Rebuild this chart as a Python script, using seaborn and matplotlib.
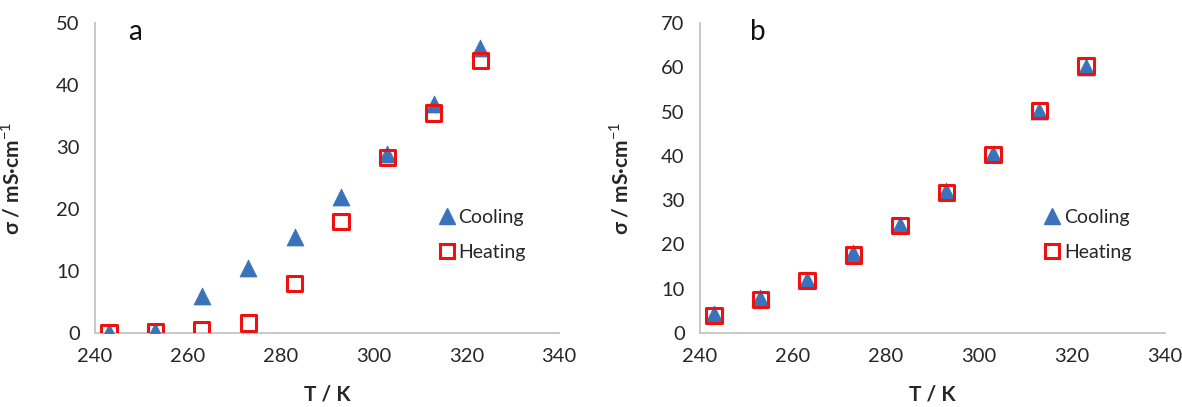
import numpy as np
import pandas as pd
import seaborn as sns
import matplotlib.pyplot as plt
from matplotlib.lines import Line2D

# Data
T = [243, 253, 263, 273, 283, 293, 303, 313, 323]
cool_a = [0.2, 0.3, 6.0, 10.5, 15.5, 22.0, 28.8, 37.0, 46.0]
heat_a = [0.1, 0.2, 0.5, 1.6, 8.0, 18.0, 28.3, 35.5, 44.0]
cool_b = [4.2, 7.8, 12.0, 18.0, 24.5, 32.0, 40.5, 50.2, 60.0]
heat_b = [4.0, 7.5, 11.8, 17.6, 24.2, 31.8, 40.3, 50.3, 60.3]

sns.set_style('white')
plt.rcParams['font.family'] = ['Lato', 'DejaVu Sans']
plt.rcParams['mathtext.fontset'] = 'custom'
plt.rcParams['mathtext.rm'] = 'Lato'
plt.rcParams['mathtext.bf'] = 'Lato:bold'

BLUE = '#3a73ba'
RED = '#f01010'
GREY = '#c4c4c4'
TXT = '#262626'

fig = plt.figure(figsize=(11.82, 4.07), dpi=100)
ax_a = fig.add_axes([0.0804, 0.1818, 0.3926, 0.7617])
ax_b = fig.add_axes([0.5922, 0.1818, 0.3934, 0.7617])

panels = [(ax_a, cool_a, heat_a, 50, 'a', -0.155),
          (ax_b, cool_b, heat_b, 70, 'b', -0.146)]
for ax, cool, heat, ymax, letter, ylab_x in panels:
    df = pd.DataFrame({'T': T, 'Cooling': cool, 'Heating': heat})
    sns.scatterplot(data=df, x='T', y='Cooling', ax=ax, marker='^', s=150,
                    color=BLUE, edgecolor=BLUE, linewidth=0.5, zorder=3)
    sns.scatterplot(data=df, x='T', y='Heating', ax=ax, marker='s', s=120,
                    facecolor='none', edgecolor=RED, linewidth=2.2, zorder=4)
    ax.set_xlim(240, 340)
    ax.set_ylim(0, ymax)
    ax.set_xticks(np.arange(240, 341, 20))
    ax.set_yticks(np.arange(0, ymax + 1, 10))
    for side in ['top', 'right']:
        ax.spines[side].set_visible(False)
    for side in ['left', 'bottom']:
        ax.spines[side].set_color(GREY)
        ax.spines[side].set_linewidth(1.3)
    ax.tick_params(axis='both', direction='out', length=5, width=1.3,
                   color=GREY, labelsize=14.5, labelcolor=TXT, pad=6)
    ax.set_xlabel('T / K', fontsize=15, fontweight='bold', color=TXT)
    ax.set_ylabel('σ / mS·cm$^{-1}$', fontsize=15, fontweight='bold', color=TXT)
    ax.xaxis.set_label_coords(0.5, -0.165)
    ax.yaxis.set_label_coords(ylab_x, 0.5)
    ax.text((135 - 95) / 464 if letter == 'a' else (758 - 700) / 465, 0.97,
            letter, transform=ax.transAxes, fontsize=20,
            va='center', ha='center', color='#111111')
    handles = [
        Line2D([], [], marker='^', linestyle='none', markersize=11,
               markerfacecolor=BLUE, markeredgecolor=BLUE),
        Line2D([], [], marker='s', linestyle='none', markersize=10,
               markerfacecolor='none', markeredgecolor=RED, markeredgewidth=2.2),
    ]
    leg = ax.legend(handles, ['Cooling', 'Heating'], loc='center left',
                    bbox_to_anchor=(0.741, 0.316), borderaxespad=0, borderpad=0,
                    frameon=False, fontsize=14, handletextpad=0.2,
                    handlelength=0.8, labelspacing=0.9)
    for t in leg.get_texts():
        t.set_color(TXT)

fig.savefig('out.png', dpi=100)
